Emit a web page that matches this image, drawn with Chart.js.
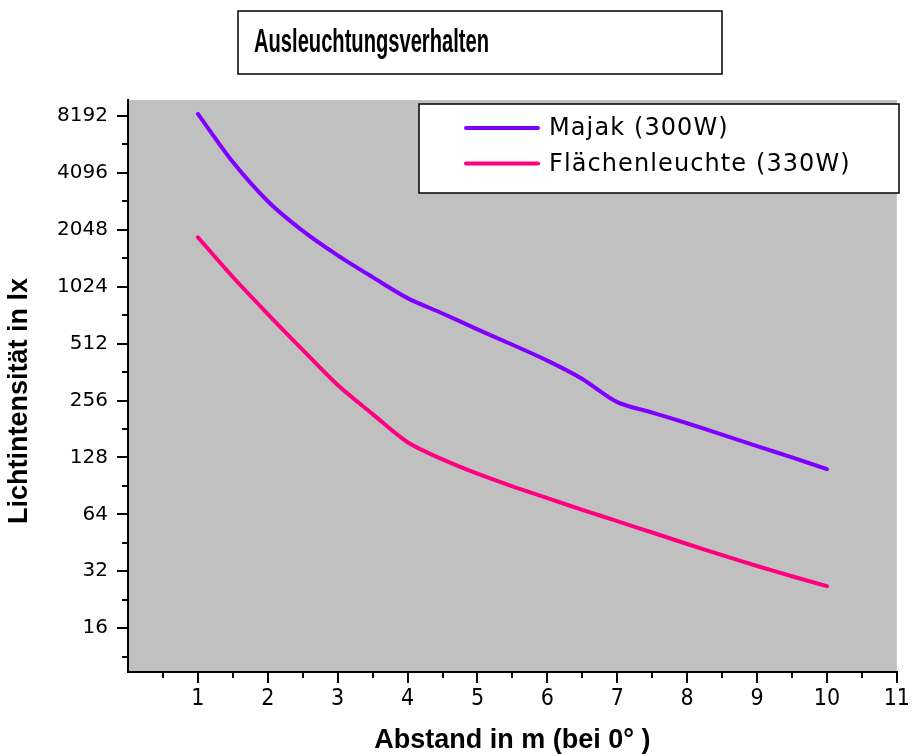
<!DOCTYPE html>
<html>
<head>
<meta charset="utf-8">
<script src="https://cdn.jsdelivr.net/npm/chart.js@4/dist/chart.umd.min.js"></script>
<style>
html,body{margin:0;padding:0;background:#fff;}
#wrap{width:912px;height:754px;position:relative;}
</style>
</head>
<body>
<div id="wrap"><canvas id="c" width="912" height="754"></canvas></div>
<script>
const chartTitle = "Ausleuchtungsverhalten";
const xTitle = "Abstand in m (bei 0° )";
const yTitle = "Lichtintensität in lx";
const seriesNames = ["Majak (300W)", "Flächenleuchte (330W)"];
const distances = [1, 1.5, 2, 2.5, 3, 3.5, 4, 4.5, 5, 5.5, 6, 6.5, 7, 7.5, 8, 8.5, 9, 9.5, 10];
const majak = [8400, 4670, 2900, 2020, 1500, 1150, 891, 739, 609, 505, 416, 333, 251, 221, 194, 169, 147, 128, 111];
const flaeche = [1870, 1152, 734, 474, 309, 217, 154, 125, 105, 90, 78, 67.6, 58.9, 51.3, 44.6, 38.9, 34.1, 30.1, 26.7];
const yTickValues = [16, 32, 64, 128, 256, 512, 1024, 2048, 4096, 8192];
const yMinorValues = [11.31, 22.63, 45.25, 90.51, 181.02, 362.04, 724.08, 1448.15, 2896.31, 5792.62];
const xTickValues = [1, 2, 3, 4, 5, 6, 7, 8, 9, 10, 11];
const xMinorValues = [0.5, 1.5, 2.5, 3.5, 4.5, 5.5, 6.5, 7.5, 8.5, 9.5, 10.5];
const colors = ["#8000FF", "#FF0080"];

const bgPlugin = {
  id: 'bg',
  beforeDraw(chart) {
    const {ctx, chartArea: a} = chart;
    ctx.save();
    ctx.fillStyle = '#C0C0C0';
    ctx.fillRect(a.left, a.top, a.right - a.left, a.bottom - a.top);
    ctx.restore();
  }
};

const minorPlugin = {
  id: 'minor',
  afterDraw(chart) {
    const {ctx, chartArea: a} = chart;
    const xs = chart.scales.x, ys = chart.scales.y;
    ctx.save();
    ctx.strokeStyle = '#000';
    ctx.lineWidth = 2;
    ctx.beginPath();
    xMinorValues.forEach(v => {
      const px = Math.round(xs.getPixelForValue(v));
      ctx.moveTo(px, a.bottom);
      ctx.lineTo(px, a.bottom + 6);
    });
    yMinorValues.forEach(v => {
      const py = Math.round(ys.getPixelForValue(v));
      ctx.moveTo(a.left - 6, py);
      ctx.lineTo(a.left, py);
    });
    ctx.stroke();
    ctx.restore();
  }
};

const legendPlugin = {
  id: 'boxLegend',
  afterDatasetsDraw(chart) {
    const ctx = chart.ctx;
    const bx = 419, by = 104, bw = 480, bh = 89;
    ctx.save();
    ctx.fillStyle = '#fff';
    ctx.fillRect(bx, by, bw, bh);
    ctx.strokeStyle = '#000';
    ctx.lineWidth = 1.5;
    ctx.strokeRect(bx, by, bw, bh);
    chart.data.datasets.forEach((ds, i) => {
      const y = 128 + i * 35.5;
      ctx.strokeStyle = ds.borderColor;
      ctx.lineWidth = 4;
      ctx.lineCap = 'round';
      ctx.beginPath();
      ctx.moveTo(466, y);
      ctx.lineTo(538, y);
      ctx.stroke();
      ctx.fillStyle = '#000';
      ctx.font = '24px "DejaVu Sans"';
      if ('letterSpacing' in ctx) ctx.letterSpacing = '1.1px';
      ctx.textBaseline = 'middle';
      ctx.textAlign = 'left';
      ctx.fillText(ds.label, 549, y + 1);
    });
    ctx.restore();
  }
};

const titlePlugin = {
  id: 'boxTitle',
  afterDraw(chart) {
    const ctx = chart.ctx;
    ctx.save();
    ctx.fillStyle = '#fff';
    ctx.fillRect(238, 11, 484, 63);
    ctx.strokeStyle = '#000';
    ctx.lineWidth = 1.5;
    ctx.strokeRect(238, 11, 484, 63);
    ctx.fillStyle = '#000';
    ctx.font = 'bold 33px "Liberation Sans"';
    ctx.textBaseline = 'alphabetic';
    ctx.textAlign = 'left';
    ctx.fillText(chartTitle, 254, 52, 235);
    ctx.restore();
  }
};

new Chart(document.getElementById('c'), {
  type: 'line',
  data: {
    labels: distances,
    datasets: [
      { label: seriesNames[0], data: distances.map((d, i) => ({x: d, y: majak[i]})),
        borderColor: colors[0], backgroundColor: colors[0], borderWidth: 4,
        pointRadius: 0, tension: 0.3, borderCapStyle: 'round', borderJoinStyle: 'round' },
      { label: seriesNames[1], data: distances.map((d, i) => ({x: d, y: flaeche[i]})),
        borderColor: colors[1], backgroundColor: colors[1], borderWidth: 4,
        pointRadius: 0, tension: 0.3, borderCapStyle: 'round', borderJoinStyle: 'round' }
    ]
  },
  options: {
    responsive: false,
    animation: false,
    layout: { padding: { top: 100, right: 12, left: 0, bottom: 0 } },
    plugins: { legend: { display: false }, title: { display: false }, tooltip: { enabled: false } },
    scales: {
      x: {
        type: 'linear', min: 0, max: 11,
        afterBuildTicks: s => { s.ticks = xTickValues.map(v => ({value: v})); },
        afterFit: s => { s.height = 82; },
        ticks: { color: '#000', font: { family: '"Liberation Sans Narrow", "DejaVu Sans Condensed", "Liberation Sans"', size: 23 }, padding: 2, maxRotation: 0, autoSkip: false,
                 callback: v => String(v) },
        grid: { display: true, drawOnChartArea: false, drawTicks: true, tickLength: 11, tickColor: '#000', tickWidth: 2, color: '#000', lineWidth: 2 },
        border: { display: true, color: '#000', width: 2 },
        title: { display: true, text: xTitle, color: '#000', font: { family: '"Liberation Sans"', size: 27, weight: 'bold', lineHeight: 1 }, padding: { top: 0, bottom: 0 } }
      },
      y: {
        type: 'logarithmic', min: 9.38, max: 9950,
        afterBuildTicks: s => { s.ticks = yTickValues.map(v => ({value: v})); },
        afterFit: s => { s.width = 128; },
        ticks: { color: '#000', font: { family: '"DejaVu Sans"', size: 20 }, padding: 9, autoSkip: false,
                 callback: v => String(v) },
        grid: { display: true, drawOnChartArea: false, drawTicks: true, tickLength: 11, tickColor: '#000', tickWidth: 2, color: '#000', lineWidth: 2 },
        border: { display: true, color: '#000', width: 2 },
        title: { display: true, text: yTitle + '    ', color: '#000', font: { family: '"Liberation Sans"', size: 27, weight: 'bold', lineHeight: 1.2 }, padding: { top: 3, bottom: 0 } }
      }
    }
  },
  plugins: [bgPlugin, minorPlugin, legendPlugin, titlePlugin]
});
</script>
</body>
</html>
